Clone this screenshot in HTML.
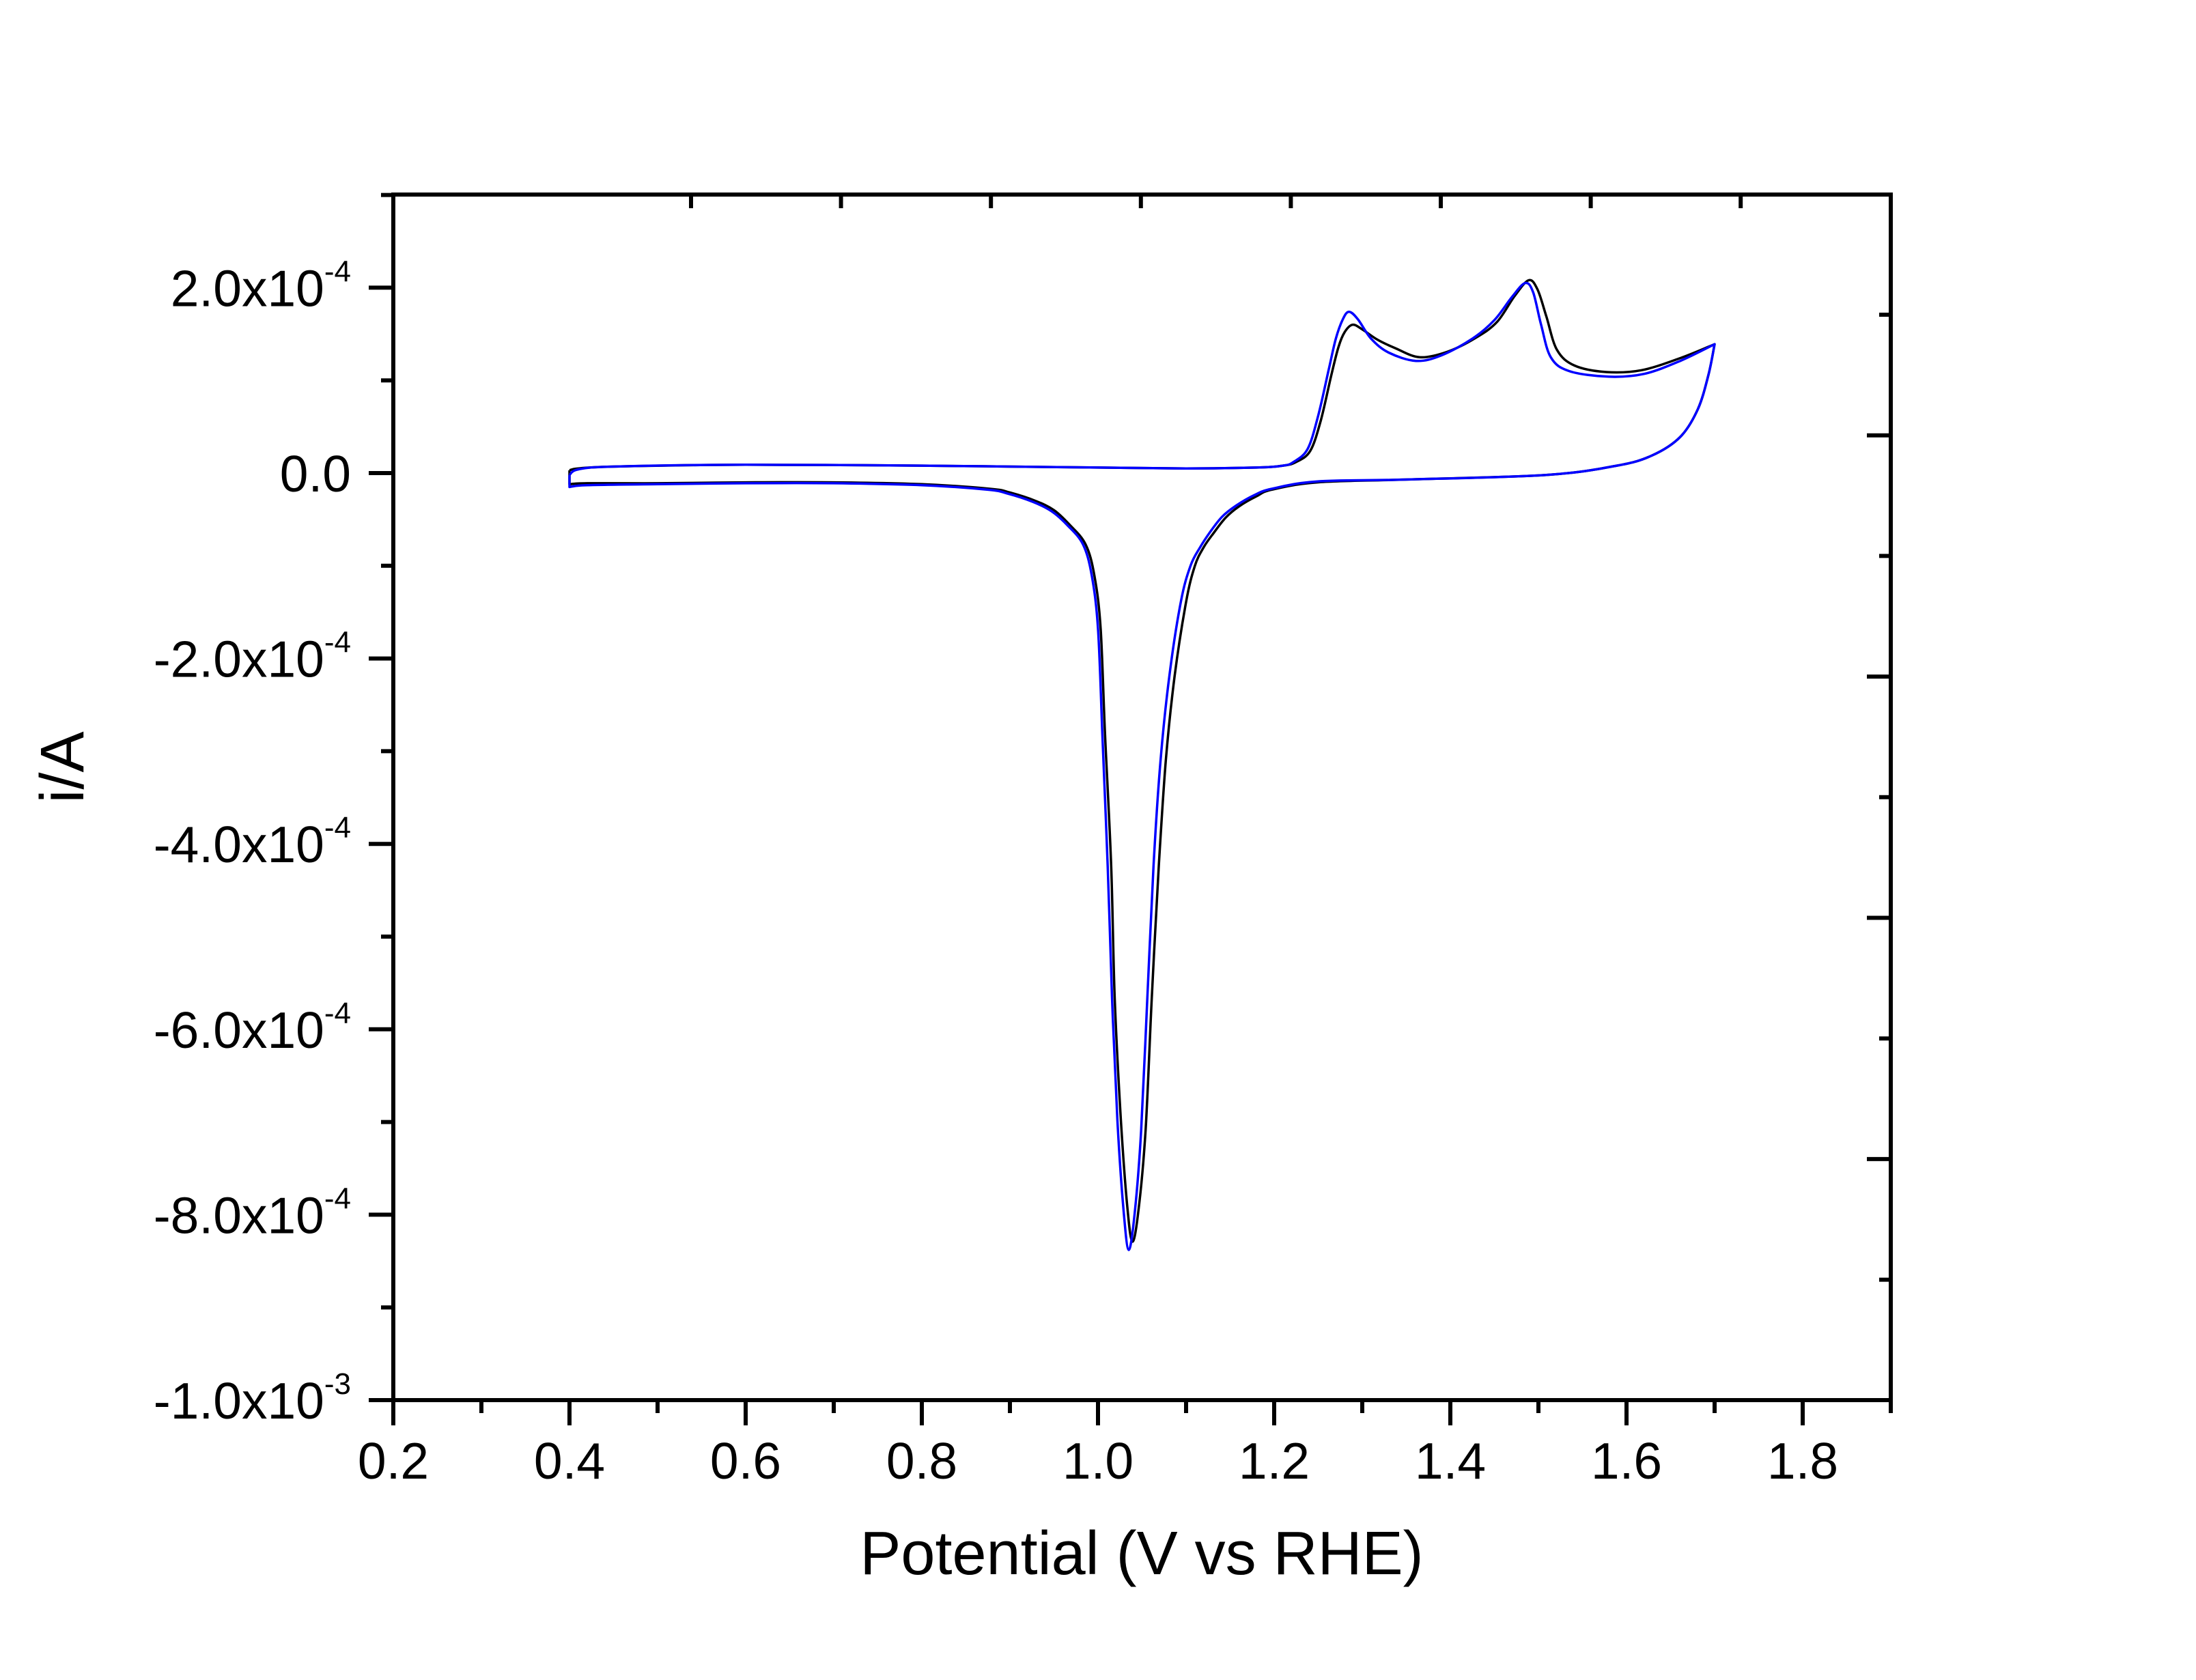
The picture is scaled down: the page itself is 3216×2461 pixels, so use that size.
<!DOCTYPE html>
<html><head><meta charset="utf-8"><style>
html,body{margin:0;padding:0;background:#fff;}
svg{display:block;font-family:"Liberation Sans",Arial,sans-serif;}
</style></head><body>
<svg id="chart" width="3216" height="2461" viewBox="0 0 3216 2461" xmlns="http://www.w3.org/2000/svg">
<rect x="0" y="0" width="3216" height="2461" fill="#fff"/>
<g id="ticks"></g>
<g id="labels"></g>
<g id="plot"></g>
<rect x="576" y="285" width="2193" height="1766" fill="none" stroke="#000" stroke-width="6"/>
<text x="1672" y="2306" font-size="90" text-anchor="middle">Potential (V vs RHE)</text>
<text x="0" y="0" font-size="90" text-anchor="middle" transform="translate(122,1124) rotate(-90)">i/A</text>
</svg>
<script>
const xTickValues = [0.2,0.4,0.6,0.8,1.0,1.2,1.4,1.6,1.8];
const xTickLabels = ["0.2","0.4","0.6","0.8","1.0","1.2","1.4","1.6","1.8"];
const yTickValues = [2,0,-2,-4,-6,-8,-10];
const yTickMantissa = ["2.0x10","0.0","-2.0x10","-4.0x10","-6.0x10","-8.0x10","-1.0x10"];
const yTickExponent = ["-4","","-4","-4","-4","-4","-3"];
// series values, current in units of 1e-4 A
const blackV = [0.40,0.41,0.45,0.6,0.8,0.9,1.0,1.1,1.18,1.21,1.225,1.241,1.253,1.265,1.273,1.28,1.289,1.30,1.317,1.337,1.365,1.397,1.429,1.453,1.473,1.489,1.499,1.509,1.521,1.541,1.577,1.617,1.661,1.70,
1.693,1.681,1.661,1.629,1.589,1.509,1.349,1.249,1.197,1.18,1.16,1.145,1.131,1.12,1.110,1.100,1.087,1.077,1.069,1.061,1.054,1.046,1.039,1.033,1.026,1.019,1.015,1.008,1.003,0.996,0.986,0.968,0.95,0.929,0.9,0.878,0.8,0.7,0.6,0.5,0.42,0.40,0.40];
const blackI = [0.03,0.05,0.07,0.09,0.08,0.07,0.06,0.05,0.06,0.08,0.12,0.24,0.57,1.06,1.36,1.52,1.60,1.55,1.44,1.35,1.25,1.31,1.46,1.63,1.91,2.08,1.98,1.69,1.33,1.16,1.09,1.11,1.24,1.39,
1.06,0.69,0.39,0.19,0.08,-0.02,-0.07,-0.10,-0.18,-0.25,-0.36,-0.48,-0.65,-0.80,-1.00,-1.39,-2.19,-3.10,-4.24,-5.67,-7.09,-7.95,-8.29,-7.89,-6.98,-5.67,-4.24,-2.82,-1.68,-1.11,-0.77,-0.56,-0.40,-0.30,-0.21,-0.17,-0.12,-0.10,-0.10,-0.11,-0.11,-0.12,0.03];
const blueV = [0.40,0.41,0.45,0.6,0.8,0.9,1.0,1.1,1.18,1.21,1.222,1.238,1.250,1.262,1.270,1.278,1.285,1.295,1.31,1.33,1.361,1.39,1.425,1.45,1.47,1.485,1.494,1.503,1.514,1.535,1.58,1.62,1.661,1.70,
1.693,1.681,1.661,1.629,1.589,1.509,1.349,1.249,1.197,1.177,1.157,1.141,1.127,1.116,1.105,1.094,1.081,1.071,1.063,1.056,1.049,1.042,1.035,1.029,1.022,1.016,1.011,1.005,1.000,0.993,0.983,0.965,0.947,0.926,0.897,0.875,0.8,0.7,0.6,0.5,0.42,0.40,0.40];
const blueI = [-0.02,0.04,0.07,0.09,0.08,0.07,0.06,0.05,0.06,0.08,0.12,0.26,0.62,1.12,1.45,1.66,1.74,1.66,1.45,1.30,1.21,1.27,1.45,1.65,1.90,2.05,1.95,1.60,1.25,1.10,1.04,1.07,1.21,1.39,
1.06,0.69,0.39,0.19,0.08,-0.02,-0.07,-0.09,-0.17,-0.24,-0.35,-0.47,-0.64,-0.80,-1.00,-1.39,-2.19,-3.10,-4.24,-5.67,-7.09,-7.95,-8.38,-7.95,-6.98,-5.67,-4.24,-2.82,-1.68,-1.11,-0.77,-0.56,-0.41,-0.31,-0.22,-0.18,-0.13,-0.11,-0.11,-0.12,-0.13,-0.15,-0.02];

const NS = "http://www.w3.org/2000/svg";
function X(v){ return 576 + (v - 0.2) * 1290; }
function Y(i){ return 693 - i * 135.8; }

const ticks = document.getElementById('ticks');
const labels = document.getElementById('labels');
function line(x1,y1,x2,y2,name){
  const l = document.createElementNS(NS,'line');
  l.setAttribute('x1',x1); l.setAttribute('y1',y1); l.setAttribute('x2',x2); l.setAttribute('y2',y2);
  l.setAttribute('stroke','#000'); l.setAttribute('stroke-width','6');
  
  
  ticks.appendChild(l);
}
for (let k = 0; k <= 17; k++) {
  const x = X(0.2 + k * 0.1);
  line(x, 2051, x, k % 2 === 0 ? 2088 : 2070, 'x-tick');
}
for (let k = -10; k <= 3; k++) {
  const y = Y(k);
  line(576, y, k % 2 === 0 ? 540 : 558, y, 'y-tick');
}
for (let k = 0; k < 8; k++) {
  const x = 1012 + k * 219.6;
  line(x, 285, x, 305, 'top-tick');
}
for (let k = 0; k < 9; k++) {
  const y = 461 + k * 176.7;
  line(2769, y, k % 2 === 1 ? 2734 : 2752, y, 'right-tick');
}
xTickValues.forEach((v, idx) => {
  const t = document.createElementNS(NS,'text');
  t.setAttribute('x', X(v)); t.setAttribute('y', 2166);
  t.setAttribute('font-size','75'); t.setAttribute('text-anchor','middle');
  t.textContent = xTickLabels[idx];
  
  
  labels.appendChild(t);
});
yTickValues.forEach((v, idx) => {
  const t = document.createElementNS(NS,'text');
  t.setAttribute('x', 514); t.setAttribute('y', Y(v) + 27);
  t.setAttribute('font-size','75'); t.setAttribute('text-anchor','end');
  const m = document.createElementNS(NS,'tspan');
  m.textContent = yTickMantissa[idx];
  t.appendChild(m);
  if (yTickExponent[idx]) {
    const s = document.createElementNS(NS,'tspan');
    s.setAttribute('font-size','44'); s.setAttribute('dy','-36');
    s.textContent = yTickExponent[idx];
    t.appendChild(s);
  }
  
  
  labels.appendChild(t);
});
function pathD(vs, is){
  const p = vs.map((v, k) => [X(v), Y(is[k])]);
  // corners: turning point (max potential) and ends
  let maxIdx = 0;
  vs.forEach((v, k) => { if (v > vs[maxIdx]) maxIdx = k; });
  const corner = new Set([0, maxIdx, p.length - 2, p.length - 1]);
  let d = 'M' + p[0][0].toFixed(1) + ' ' + p[0][1].toFixed(1);
  for (let k = 0; k < p.length - 1; k++) {
    const p1 = p[k], p2 = p[k + 1];
    const p0 = corner.has(k) ? p1 : p[k - 1];
    const p3 = corner.has(k + 1) ? p2 : p[k + 2];
    const c1x = p1[0] + (p2[0] - p0[0]) / 6, c1y = p1[1] + (p2[1] - p0[1]) / 6;
    const c2x = p2[0] - (p3[0] - p1[0]) / 6, c2y = p2[1] - (p3[1] - p1[1]) / 6;
    d += ' C' + c1x.toFixed(1) + ' ' + c1y.toFixed(1) + ' ' + c2x.toFixed(1) + ' ' + c2y.toFixed(1) + ' ' + p2[0].toFixed(1) + ' ' + p2[1].toFixed(1);
  }
  return d;
}
const plot = document.getElementById('plot');
const pb = document.createElementNS(NS,'path');
pb.setAttribute('d', pathD(blackV, blackI));
pb.setAttribute('fill','none'); pb.setAttribute('stroke','#000'); pb.setAttribute('stroke-width','3.5');
pb.setAttribute('stroke-linejoin','round');


plot.appendChild(pb);
const pl = document.createElementNS(NS,'path');
pl.setAttribute('d', pathD(blueV, blueI));
pl.setAttribute('fill','none'); pl.setAttribute('stroke','#0000ff'); pl.setAttribute('stroke-width','3.5');
pl.setAttribute('stroke-linejoin','round');


plot.appendChild(pl);
</script>
</body></html>
